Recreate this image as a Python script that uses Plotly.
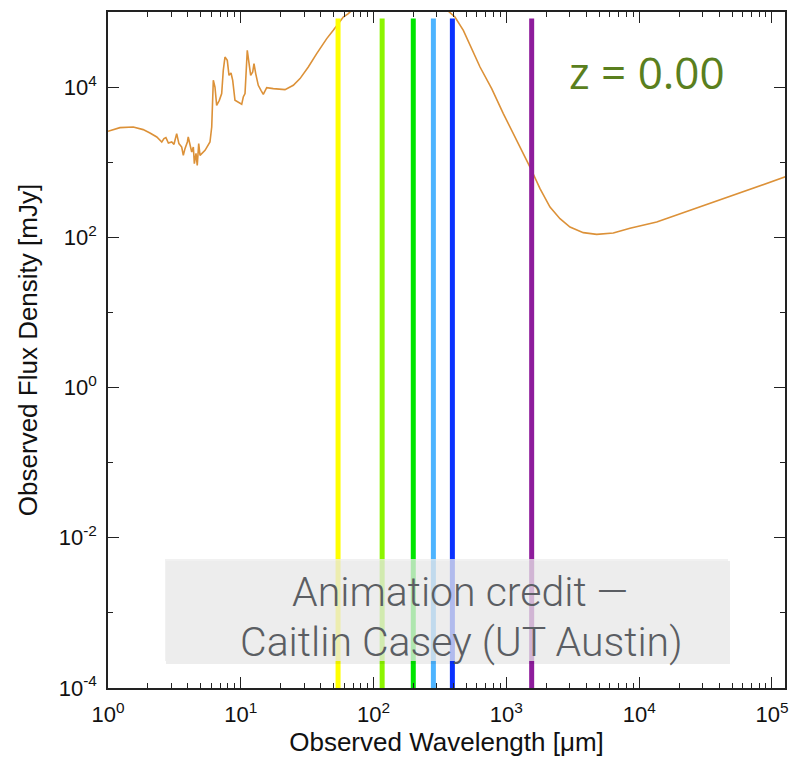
import plotly.graph_objects as go

# ---- data ----
wavelength_um = [1.0, 1.23, 1.55, 1.84, 2.07, 2.33, 2.54, 2.64, 2.73, 2.85,
                 3.02, 3.14, 3.29, 3.42, 3.59, 3.69, 3.80, 3.96, 4.02, 4.15,
                 4.27, 4.39, 4.47, 4.60, 4.70, 4.82, 4.93, 5.38, 5.86, 6.04,
                 6.21, 6.39, 6.58, 6.89, 7.18, 7.38, 7.60, 7.91, 8.15, 8.44,
                 8.69, 9.04, 9.58, 10.16, 10.44, 10.76, 11.19, 11.59, 11.87, 12.29,
                 12.57, 12.95, 13.54, 14.19, 14.77, 15.67, 17.56, 21.52, 24.85, 27.92,
                 32.24, 37.28, 44.36, 49.72, 59.14, 64.49, 72.4, 94.0, 158, 266,
                 345, 410, 474, 633, 775, 948, 1196, 1506, 1791, 2130,
                 2533, 3013, 3794, 4786, 6383, 8527, 13550, 24130, 42980, 76680,
                 128000]
flux_mjy = [2579, 2888, 2942, 2718, 2448, 2166, 1858, 2062, 2126, 1802,
            1858, 1731, 2403, 1769, 1594, 1236, 1518, 1858, 2166, 1594,
            1367, 1594, 958, 1314, 909, 1769, 1236, 1440, 1858, 2942,
            12320, 10030, 5724, 6672, 8193, 16740, 25170, 22750, 14360, 15410,
            12320, 6672, 6333, 5902, 7383, 8193, 30900, 18520, 14360, 15890,
            20560, 15130, 10570, 9066, 8020, 9847, 9550, 9259, 10570, 12980,
            18520, 27930, 44240, 57060, 85790, 95210, 115500, 143200, 182900, 152200,
            112000, 85790, 57060, 18520, 9550, 4437, 1957, 863, 445, 253,
            177, 137, 115.5, 109.6, 114, 131.8, 159.8, 228.8, 327.6, 467.5,
            645]

band_wavelengths_um = [54, 116, 199, 282, 392, 1550]
band_colors = ["#FFFF00", "#8CF500", "#00E600", "#4DB4FF", "#0A32FF", "#8E1C9C"]
band_top_mjy = 82000
band_bottom_mjy = 1e-4

x_tick_vals = [1, 10, 100, 1000, 10000, 100000]
x_tick_text = ["10<sup>0</sup>", "10<sup>1</sup>", "10<sup>2</sup>",
               "10<sup>3</sup>", "10<sup>4</sup>", "10<sup>5</sup>"]
x_minor_vals = [m * d for d in [1, 10, 100, 1000, 10000, 100000] for m in range(2, 10)]
y_tick_vals = [1e-4, 1e-2, 1, 1e2, 1e4]
y_tick_text = ["10<sup>-4</sup>", "10<sup>-2</sup>", "10<sup>0</sup>",
               "10<sup>2</sup>", "10<sup>4</sup>"]
y_minor_vals = [1e-3, 1e-1, 10, 1e3, 1e5]

redshift_label = "z = 0.00"
credit_lines = ["Animation credit \u2014", "Caitlin Casey (UT Austin)"]

# ---- figure ----
W, H = 793, 757
L, R, T, B = 108, 8, 12, 69
pw, ph = W - L - R, H - T - B


def px_to_paper(x, y):
    return (x - L) / pw, (H - B - y) / ph


fig = go.Figure()
fig.add_trace(go.Scatter(x=wavelength_um, y=flux_mjy, mode="lines",
                         line=dict(color="#DC9138", width=1.6),
                         hoverinfo="skip", showlegend=False))
for wl, col in zip(band_wavelengths_um, band_colors):
    fig.add_trace(go.Scatter(x=[wl, wl], y=[band_bottom_mjy, band_top_mjy], mode="lines",
                             line=dict(color=col, width=5),
                             hoverinfo="skip", showlegend=False))

FAM = "Liberation Sans, Arial, sans-serif"
axis_font = dict(family=FAM, size=22, color="#111")
title_font = dict(family=FAM, size=26, color="#111")
common = dict(showline=True, linecolor="#222", linewidth=1.5, mirror="allticks",
              ticks="inside", ticklen=11, tickwidth=1.3, tickcolor="#222",
              showgrid=False, zeroline=False, tickfont=axis_font)

fig.update_xaxes(type="log", range=[0, 5.098], tickmode="array",
                 tickvals=x_tick_vals, ticktext=x_tick_text, ticklabelstandoff=6,
                 minor=dict(ticks="inside", ticklen=5.5, tickwidth=1.2, tickcolor="#222",
                            tickmode="array", tickvals=x_minor_vals, showgrid=False),
                 title=dict(text="Observed Wavelength [\u03bcm]", font=title_font, standoff=2),
                 **common)
fig.update_yaxes(type="log", range=[-4, 5], tickmode="array",
                 tickvals=y_tick_vals, ticktext=y_tick_text, ticklabelstandoff=5,
                 minor=dict(ticks="inside", ticklen=5.5, tickwidth=1.2, tickcolor="#222",
                            tickmode="array", tickvals=y_minor_vals, showgrid=False),
                 title=dict(text="Observed Flux Density [mJy]", font=title_font, standoff=14),
                 **common)

# credit box with soft shadow
bx0, by1 = px_to_paper(165, 661)
bx1, by0 = px_to_paper(728, 559)
sx0, sy1 = px_to_paper(166, 664)
sx1, sy0 = px_to_paper(730, 561)
fig.add_shape(type="rect", xref="paper", yref="paper", x0=sx0, x1=sx1, y0=sy1, y1=sy0,
              fillcolor="rgba(0,0,0,0.07)", line=dict(width=0), layer="above")
fig.add_shape(type="rect", xref="paper", yref="paper", x0=bx0, x1=bx1, y0=by1, y1=by0,
              fillcolor="rgba(236,236,236,0.74)", line=dict(width=0), layer="above")

credit_font = dict(family="Roboto, Liberation Sans, sans-serif", size=41, color="#5B5E63", weight=300)
for text, (cx, cy) in zip(credit_lines, [(460, 592), (461, 642)]):
    ax, ay = px_to_paper(cx, cy)
    fig.add_annotation(x=ax, y=ay, xref="paper", yref="paper", text=text, showarrow=False,
                       xanchor="center", yanchor="middle", font=credit_font)

zx, zy = px_to_paper(647, 72)
fig.add_annotation(x=zx, y=zy, xref="paper", yref="paper", text=redshift_label, showarrow=False,
                   xanchor="center", yanchor="middle",
                   font=dict(family="Open Sans, sans-serif", size=44, color="#5A7F1E"))

fig.update_layout(width=W, height=H, margin=dict(l=L, r=R, t=T, b=B, autoexpand=False),
                  paper_bgcolor="white", plot_bgcolor="white")

fig.write_html("out.html")
